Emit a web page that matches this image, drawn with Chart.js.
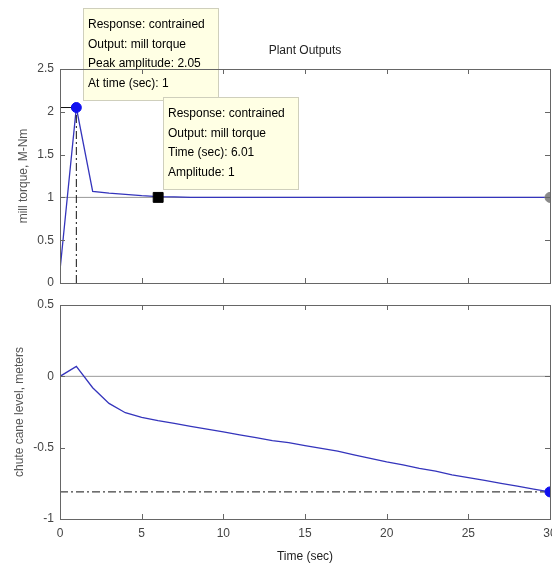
<!DOCTYPE html>
<html>
<head>
<meta charset="utf-8">
<script src="https://cdn.jsdelivr.net/npm/chart.js@4.4.1/dist/chart.umd.min.js"></script>
<style>
  body { margin: 0; background: #fff; }
  canvas { position: absolute; left: 0; }
  #torque { top: 0; }
  #level { top: 290px; }
</style>
</head>
<body>
<canvas id="torque" width="552" height="290"></canvas>
<canvas id="level" width="552" height="278"></canvas>
<script>
// step response, sampled every second
const time = [0, 1, 2, 3, 4, 5, 6, 7, 8, 9, 10, 11, 12, 13, 14, 15,
              16, 17, 18, 19, 20, 21, 22, 23, 24, 25, 26, 27, 28, 29, 30];
const millTorque = [0.15, 2.05, 1.07, 1.05, 1.035, 1.02, 1.01, 1.005, 1, 1, 1, 1, 1, 1, 1, 1,
                    1, 1, 1, 1, 1, 1, 1, 1, 1, 1, 1, 1, 1, 1, 1];
const caneLevel = [0, 0.07, -0.08, -0.19, -0.255, -0.287, -0.31, -0.33, -0.35, -0.37, -0.39,
                   -0.41, -0.43, -0.45, -0.465, -0.485, -0.505, -0.525, -0.55, -0.575, -0.6,
                   -0.62, -0.645, -0.665, -0.69, -0.71, -0.73, -0.75, -0.77, -0.79, -0.81];

const xTicks = [0, 5, 10, 15, 20, 25, 30];
const torqueTicks = [0, 0.5, 1, 1.5, 2, 2.5];
const levelTicks = [-1, -0.5, 0, 0.5];

const peakTime = 1, peakAmp = 2.05;
const settleTime = 6.01, settleAmp = 1;
const finalTorque = 1, finalLevel = -0.81;

const family = '"Liberation Sans", Arial, sans-serif';
const blue = '#3434bc';

const pts = ys => time.map((t, i) => ({x: t, y: ys[i]}));

// axes box, inward tick marks, title and data tips (MATLAB look)
const frame = {
  id: 'frame',
  afterDatasetsDraw(chart, args, opts) {
    const {ctx, chartArea: a, scales: {x, y}} = chart;
    ctx.save();

    (opts.tips || []).forEach(tip => {
      const left = Math.round(x.getPixelForValue(tip.x) + tip.dx);
      const bottom = Math.round(y.getPixelForValue(tip.y) + tip.dy);
      const w = 135, h = 92, top = bottom - h;
      ctx.fillStyle = '#ffffe4';
      ctx.fillRect(left, top, w, h);
      ctx.strokeStyle = '#cfcfbc';
      ctx.lineWidth = 1;
      ctx.strokeRect(left + 0.5, top + 0.5, w, h);
      ctx.fillStyle = '#000';
      ctx.font = '12px ' + family;
      ctx.textBaseline = 'middle';
      ctx.textAlign = 'left';
      tip.lines.forEach((s, i) => ctx.fillText(s, left + 5, top + 17 + i * 19.5));
    });

    ctx.strokeStyle = '#666';
    ctx.lineWidth = 1;
    ctx.strokeRect(a.left + 0.5, a.top + 0.5, a.right - a.left, a.bottom - a.top);
    ctx.beginPath();
    x.ticks.forEach(t => {
      const px = Math.round(x.getPixelForValue(t.value)) + 0.5;
      ctx.moveTo(px, a.bottom); ctx.lineTo(px, a.bottom - 5);
      ctx.moveTo(px, a.top); ctx.lineTo(px, a.top + 5);
    });
    y.ticks.forEach(t => {
      const py = Math.round(y.getPixelForValue(t.value)) + 0.5;
      ctx.moveTo(a.left, py); ctx.lineTo(a.left + 5, py);
      ctx.moveTo(a.right, py); ctx.lineTo(a.right - 5, py);
    });
    ctx.stroke();

    if (opts.title) {
      ctx.fillStyle = '#222';
      ctx.font = '12px ' + family;
      ctx.textAlign = 'center';
      ctx.textBaseline = 'middle';
      ctx.fillText(opts.title, (a.left + a.right) / 2, 51);
    }
    ctx.restore();
  }
};

function axes(yTicks, yMin, yMax, yTitle, yTitlePad, xHeight, showX) {
  return {
    x: {
      type: 'linear', min: 0, max: 30,
      afterBuildTicks: s => { s.ticks = xTicks.map(v => ({value: v})); },
      afterFit: s => { s.height = xHeight; s.paddingLeft = 0; s.paddingRight = 0; },
      grid: {display: false, drawTicks: false},
      border: {display: false},
      ticks: {display: showX, color: '#444', padding: 7, maxRotation: 0, autoSkip: false,
              font: {size: 12, family}, callback: v => String(v)},
      title: {display: showX, text: 'Time (sec)', color: '#222',
              font: {size: 12, family}, padding: {top: 0, bottom: 4}}
    },
    y: {
      type: 'linear', min: yMin, max: yMax,
      afterBuildTicks: s => { s.ticks = yTicks.map(v => ({value: v})); },
      afterFit: s => { s.width = 60; s.paddingTop = 0; s.paddingBottom = 0; },
      grid: {display: false, drawTicks: false},
      border: {display: false},
      ticks: {color: '#444', padding: 6, font: {size: 12, family}, callback: v => String(v)},
      title: {display: true, text: yTitle, color: '#555',
              font: {size: 12, family}, padding: {top: yTitlePad, bottom: 0}}
    }
  };
}

const common = {
  responsive: false,
  animation: false,
  events: [],
  elements: {line: {tension: 0, fill: false}},
};

// datasets listed top-most first (Chart.js paints the first one last)
new Chart(document.getElementById('torque'), {
  type: 'line',
  data: {
    datasets: [
      {data: [{x: peakTime, y: peakAmp}], pointRadius: 5, pointBackgroundColor: '#1010f0',
       pointBorderColor: '#1010f0', showLine: false},
      {data: [{x: settleTime, y: settleAmp}], pointStyle: 'rect', pointRadius: 7,
       pointBackgroundColor: '#000', pointBorderColor: '#000', showLine: false},
      {data: [{x: 30, y: finalTorque}], pointRadius: 5, pointBackgroundColor: '#8a8a8a',
       pointBorderColor: '#8a8a8a', showLine: false},
      {data: [{x: 0, y: peakAmp}, {x: peakTime, y: peakAmp}], borderColor: '#111', borderWidth: 1, pointRadius: 0},
      {data: [{x: peakTime, y: 0}, {x: peakTime, y: peakAmp}], borderColor: '#111', borderWidth: 1,
       borderDash: [8, 3, 2, 3], pointRadius: 0},
      {data: pts(millTorque), borderColor: blue, borderWidth: 1.3, pointRadius: 0},
      {data: [{x: 0, y: finalTorque}, {x: 30, y: finalTorque}], borderColor: '#999', borderWidth: 1, pointRadius: 0}
    ]
  },
  options: {
    ...common,
    layout: {autoPadding: false, padding: {top: 69, right: 2, left: 0, bottom: 0}},
    scales: axes(torqueTicks, 0, 2.5, 'mill torque, M-Nm', 16, 7, false),
    plugins: {
      legend: {display: false},
      tooltip: {enabled: false},
      frame: {
        title: 'Plant Outputs',
        tips: [
          {x: peakTime, y: peakAmp, dx: 7, dy: -8,
           lines: ['Response: contrained', 'Output: mill torque',
                   'Peak amplitude: ' + peakAmp, 'At time (sec): ' + peakTime]},
          {x: settleTime, y: settleAmp, dx: 5, dy: -8,
           lines: ['Response: contrained', 'Output: mill torque',
                   'Time (sec): ' + settleTime, 'Amplitude: ' + settleAmp]}
        ]
      }
    }
  },
  plugins: [frame]
});

new Chart(document.getElementById('level'), {
  type: 'line',
  data: {
    datasets: [
      {data: [{x: 30, y: finalLevel}], pointRadius: 5, pointBackgroundColor: '#1010f0',
       pointBorderColor: '#1010f0', showLine: false},
      {data: pts(caneLevel), borderColor: blue, borderWidth: 1.3, pointRadius: 0},
      {data: [{x: 0, y: finalLevel}, {x: 30, y: finalLevel}], borderColor: '#111', borderWidth: 1,
       borderDash: [8, 3, 2, 3], pointRadius: 0},
      {data: [{x: 0, y: 0}, {x: 30, y: 0}], borderColor: '#999', borderWidth: 1, pointRadius: 0}
    ]
  },
  options: {
    ...common,
    layout: {autoPadding: false, padding: {top: 15, right: 2, left: 0, bottom: 0}},
    scales: axes(levelTicks, -1, 0.5, 'chute cane level, meters', 12, 49, true),
    plugins: {
      legend: {display: false},
      tooltip: {enabled: false},
      frame: {}
    }
  },
  plugins: [frame]
});
</script>
</body>
</html>
